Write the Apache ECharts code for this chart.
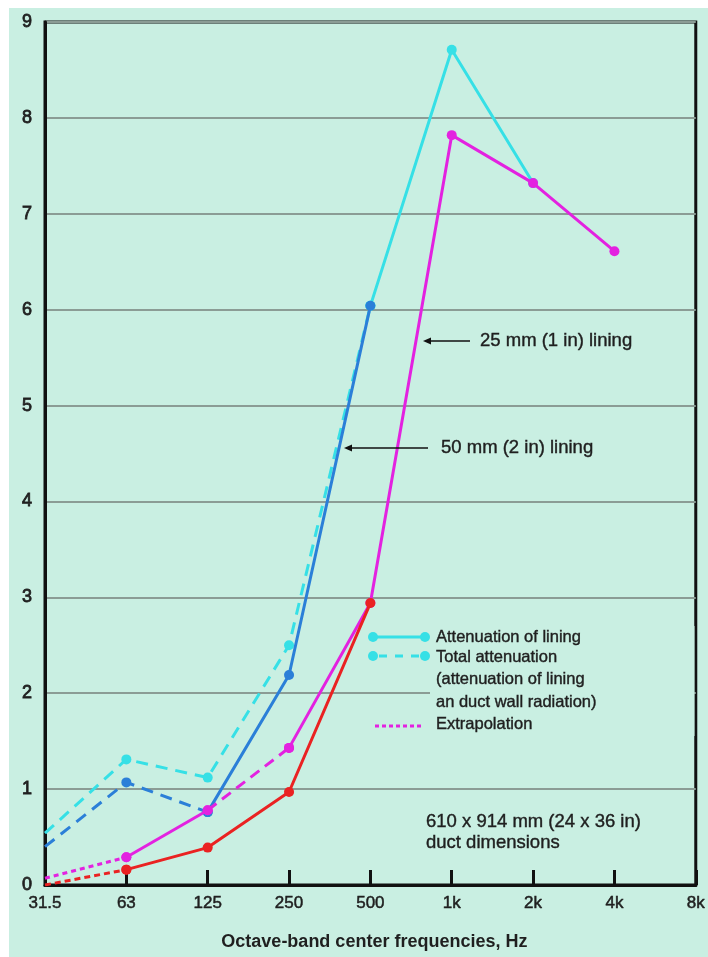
<!DOCTYPE html>
<html>
<head>
<meta charset="utf-8">
<style>
  html, body { margin: 0; padding: 0; background: #ffffff; }
  #panel { position: absolute; left: 9px; top: 8px; width: 699px; height: 949px; background: #c9efe2; }
  #chart { position: absolute; left: 0; top: 0; width: 708px; height: 957px; }
</style>
<script src="https://cdn.jsdelivr.net/npm/echarts@6/dist/echarts.min.js"></script>
</head>
<body>
<div id="panel"></div>
<div id="chart"></div>
<script>
// Octave-band centre frequencies (Hz)
const bands = ['31.5', '63', '125', '250', '500', '1k', '2k', '4k', '8k'];
const yTicks = [0, 1, 2, 3, 4, 5, 6, 7, 8, 9];

// 50 mm (2 in) lining
const lining50Total     = [0.54, 1.31, 1.12, 2.50, 6.04, null, null, null, null]; // dashed cyan
const lining50Extrap    = [0.40, 1.07, 0.76, null, null, null, null, null, null]; // dashed blue
const lining50Measured  = [null, null, 0.76, 2.19, 6.04, null, null, null, null]; // solid blue
const lining50High      = [null, null, null, null, 6.04, 8.71, 7.32, null, null]; // solid cyan

// 25 mm (1 in) lining
const lining25Extrap    = [0.07, 0.29, null, null, null, null, null, null, null]; // dotted magenta
const lining25Low       = [null, 0.29, 0.78, null, null, null, null, null, null]; // solid magenta
const lining25Total     = [null, null, 0.78, 1.43, null, null, null, null, null]; // dashed magenta
const lining25High      = [null, null, null, 1.43, 2.94, 7.82, 7.32, 6.61, null]; // solid magenta
const lining25LowExtrap = [0.00, 0.16, null, null, null, null, null, null, null]; // dashed red
const lining25Lining    = [null, 0.16, 0.39, 0.97, 2.94, null, null, null, null]; // solid red

const CYAN = '#36e0e6', BLUE = '#2b7fd8', MAGENTA = '#e322e0', RED = '#ea2222';
const FONT = 'Liberation Sans, Arial, Helvetica, sans-serif';
const TEXT = '#1f1f1f';

// hide the marker on the left point where the line just leaves the axis
function noFirstSymbol(arr) {
  return arr.map((v, i) => (i === 0 && v !== null) ? { value: v, symbol: 'none' } : v);
}

function line(name, data, color, opts) {
  opts = opts || {};
  return {
    name: name,
    type: 'line',
    data: data,
    connectNulls: false,
    symbol: 'circle',
    symbolSize: 10,
    z: opts.z || 2,
    lineStyle: { color: color, width: 3, type: opts.dash || 'solid' },
    itemStyle: { color: color },
    emphasis: { disabled: true },
    animation: false
  };
}

// slightly heavier text strokes for the annotation labels
function label(x, y, text, size) {
  return {
    type: 'text', z: 22,
    style: {
      x: x, y: y, text: text, fill: TEXT, font: size + 'px ' + FONT,
      textVerticalAlign: 'middle', stroke: TEXT, lineWidth: 0.4
    }
  };
}

const chart = echarts.init(document.getElementById('chart'), null, { renderer: 'canvas' });

const option = {
  backgroundColor: 'transparent',
  animation: false,
  grid: {
    left: 45, top: 22, right: 12, bottom: 72,
    show: true, borderColor: '#111111', borderWidth: 3, backgroundColor: 'transparent'
  },
  xAxis: {
    type: 'category',
    data: bands,
    boundaryGap: false,
    axisLine: { show: true, lineStyle: { color: '#111111', width: 3 } },
    axisTick: { show: true, inside: true, length: 15, lineStyle: { color: '#111111', width: 3 }, interval: 0 },
    axisLabel: { color: TEXT, fontFamily: FONT, fontSize: 17, margin: 10, interval: 0, textBorderColor: TEXT, textBorderWidth: 0.5 },
    splitLine: { show: false },
    name: 'Octave-band center frequencies, Hz',
    nameLocation: 'middle',
    nameGap: 48,
    nameTextStyle: { color: TEXT, fontFamily: FONT, fontSize: 18, fontWeight: 'bold', padding: [0, 0, 0, 8] }
  },
  yAxis: {
    type: 'value',
    min: yTicks[0],
    max: yTicks[yTicks.length - 1],
    interval: 1,
    axisLine: { show: true, lineStyle: { color: '#111111', width: 3 } },
    axisTick: { show: false },
    axisLabel: { color: TEXT, fontFamily: FONT, fontSize: 18, margin: 13, textBorderColor: TEXT, textBorderWidth: 0.8 },
    splitLine: { show: true, lineStyle: { color: '#8b9c95', width: 2 } }
  },
  series: [
    line('50 mm total attenuation', noFirstSymbol(lining50Total), CYAN, { dash: [12, 8], z: 2 }),
    line('50 mm extrapolation', noFirstSymbol(lining50Extrap), BLUE, { dash: [12, 8], z: 3 }),
    line('50 mm high band', lining50High, CYAN, { z: 3 }),
    line('50 mm attenuation of lining', lining50Measured, BLUE, { z: 4 }),
    line('25 mm extrapolation', noFirstSymbol(lining25Extrap), MAGENTA, { dash: [5, 4], z: 5 }),
    line('25 mm total attenuation', lining25Total, MAGENTA, { dash: [11, 7], z: 5 }),
    line('25 mm low band', lining25Low, MAGENTA, { z: 6 }),
    line('25 mm high band', lining25High, MAGENTA, { z: 6 }),
    line('25 mm lining extrapolation', noFirstSymbol(lining25LowExtrap), RED, { dash: [6, 4], z: 7 }),
    line('25 mm attenuation of lining', lining25Lining, RED, { z: 7 })
  ],
  graphic: [
    // legend box (covers the grid line behind the text)
    { type: 'rect', z: 20, shape: { x: 430, y: 626, width: 264.5, height: 110 }, style: { fill: '#c9efe2' } },
    { type: 'line', z: 21, shape: { x1: 373, y1: 637, x2: 425, y2: 637 }, style: { stroke: CYAN, lineWidth: 3 } },
    { type: 'circle', z: 22, shape: { cx: 373, cy: 637, r: 5 }, style: { fill: CYAN } },
    { type: 'circle', z: 22, shape: { cx: 425, cy: 637, r: 5 }, style: { fill: CYAN } },
    { type: 'line', z: 21, shape: { x1: 373, y1: 656, x2: 425, y2: 656 }, style: { stroke: CYAN, lineWidth: 3, lineDash: [8, 8], lineDashOffset: -6 } },
    { type: 'circle', z: 22, shape: { cx: 373, cy: 656, r: 5 }, style: { fill: CYAN } },
    { type: 'circle', z: 22, shape: { cx: 425, cy: 656, r: 5 }, style: { fill: CYAN } },
    { type: 'line', z: 21, shape: { x1: 375, y1: 726, x2: 424, y2: 726 }, style: { stroke: MAGENTA, lineWidth: 3, lineDash: [4, 3] } },
    label(436, 637, 'Attenuation of lining', 16.5),
    label(436, 657, 'Total attenuation', 16.5),
    label(436, 679, '(attenuation of lining', 16.5),
    label(436, 702, 'an duct wall radiation)', 16.5),
    label(436, 724, 'Extrapolation', 16.5),

    // lining callouts
    { type: 'line', z: 21, shape: { x1: 470, y1: 341, x2: 426, y2: 341 }, style: { stroke: '#111', lineWidth: 1.5 } },
    { type: 'polygon', z: 21, shape: { points: [[423, 341], [431, 337.5], [431, 344.5]] }, style: { fill: '#111' } },
    label(480, 341, '25 mm (1 in) lining', 18.5),
    { type: 'line', z: 21, shape: { x1: 428, y1: 448, x2: 348, y2: 448 }, style: { stroke: '#111', lineWidth: 1.5 } },
    { type: 'polygon', z: 21, shape: { points: [[344, 448], [352, 444.5], [352, 451.5]] }, style: { fill: '#111' } },
    label(441, 448, '50 mm (2 in) lining', 18.5),

    // duct size note
    label(426, 822, '610 x 914 mm (24 x 36 in)', 18.5),
    label(426, 843, 'duct dimensions', 18.5)
  ]
};

chart.setOption(option);
</script>
</body>
</html>
